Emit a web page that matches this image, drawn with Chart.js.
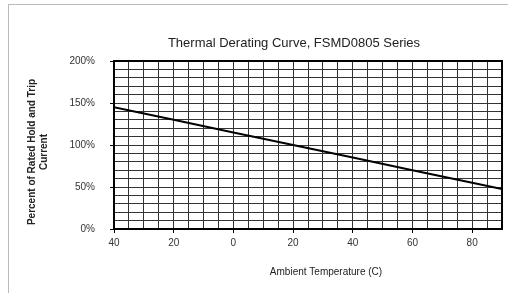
<!DOCTYPE html>
<html lang="en">
<head>
    <meta charset="UTF-8">
    <title>Thermal Derating Curve</title>
    <script src="https://cdn.jsdelivr.net/npm/chart.js"></script>
    <style>
        body{
            margin: 0;
            background: #fff;
        }
        .frame{
            position: absolute;
            left: 8px;
            top: 4px;
            width: 500px;
            height: 289px;
            border-left: 1px solid #bbb;
            border-top: 1px solid #bbb;
        }
        canvas{
            position: absolute;
            left: 0;
            top: 0;
        }
    </style>
</head>
<body>
    <div class="frame"></div>
    <canvas id="myChart" width="508" height="293"></canvas>
</body>
</html>
<script>
    const temps = [-40, -20, 0, 20, 40, 60, 80, 90];
    const percent = [145, 130, 115, 100, 85, 70, 55, 47.5];
    const xTickValues = [-40, -20, 0, 20, 40, 60, 80];
    const xTickText = ['40', '20', '0', '20', '40', '60', '80'];
    const yTickValues = [0, 50, 100, 150, 200];

    const chartTitle = 'Thermal Derating Curve, FSMD0805 Series';
    const xTitle = 'Ambient Temperature (C)';
    const yTitle = ['Percent of Rated Hold and Trip', 'Current'];

    const textPlugin = {
        id: 'texts',
        afterDraw(chart){
            const ctx = chart.ctx;
            const a = chart.chartArea;
            ctx.save();
            // frame around plot
            ctx.strokeStyle = '#000';
            ctx.lineWidth = 2;
            ctx.strokeRect(a.left, a.top, a.right - a.left, a.bottom - a.top);

            ctx.fillStyle = '#222';
            ctx.textAlign = 'center';
            ctx.textBaseline = 'middle';
            ctx.font = '13px "Liberation Sans", Arial, sans-serif';
            ctx.fillText(chartTitle, 294, 43);

            ctx.font = '10px "Liberation Sans", Arial, sans-serif';
            ctx.fillText(xTitle, 326, 272);

            ctx.font = 'bold 10px "Liberation Sans", Arial, sans-serif';
            ctx.translate(0, 152);
            ctx.rotate(-Math.PI / 2);
            ctx.fillText(yTitle[0], 0, 32);
            ctx.fillText(yTitle[1], 0, 44);
            ctx.restore();
        }
    };

    const ctx = document.querySelector('#myChart');
    const myChart = new Chart(ctx, {
        type: 'line',
        data: {
            datasets: [{
                data: temps.map((t, i) => ({x: t, y: percent[i]})),
                borderColor: '#000',
                borderWidth: 2,
                pointRadius: 0,
                tension: 0
            }]
        },
        options: {
            responsive: false,
            animation: false,
            layout: {
                padding: {left: 54, right: 6, top: 61, bottom: 0}
            },
            plugins: {
                legend: {display: false},
                title: {display: false},
                tooltip: {enabled: false}
            },
            scales: {
                x: {
                    type: 'linear',
                    min: -40,
                    max: 90,
                    afterFit: (s) => { s.height = 64; },
                    ticks: {
                        stepSize: 5,
                        maxTicksLimit: 40,
                        autoSkip: false,
                        maxRotation: 0,
                        padding: 4,
                        color: '#333',
                        font: {family: '"Liberation Sans", Arial, sans-serif', size: 10},
                        callback: (v) => {
                            const i = xTickValues.indexOf(v);
                            return i >= 0 ? xTickText[i] : '';
                        }
                    },
                    grid: {
                        color: '#333',
                        lineWidth: 1,
                        tickLength: 4,
                        tickColor: (c) => xTickValues.includes(c.tick && c.tick.value) ? '#000' : 'rgba(0,0,0,0)'
                    },
                    border: {color: '#000', width: 2}
                },
                y: {
                    min: 0,
                    max: 200,
                    afterFit: (s) => { s.width = 60; },
                    ticks: {
                        stepSize: 10,
                        maxTicksLimit: 40,
                        autoSkip: false,
                        padding: 15,
                        color: '#333',
                        font: {family: '"Liberation Sans", Arial, sans-serif', size: 10},
                        callback: (v) => yTickValues.includes(v) ? v + '%' : ''
                    },
                    grid: {
                        color: '#333',
                        lineWidth: 1,
                        tickLength: 4,
                        tickColor: (c) => yTickValues.includes(c.tick && c.tick.value) ? '#000' : 'rgba(0,0,0,0)'
                    },
                    border: {color: '#000', width: 2}
                }
            }
        },
        plugins: [textPlugin]
    });
</script>
